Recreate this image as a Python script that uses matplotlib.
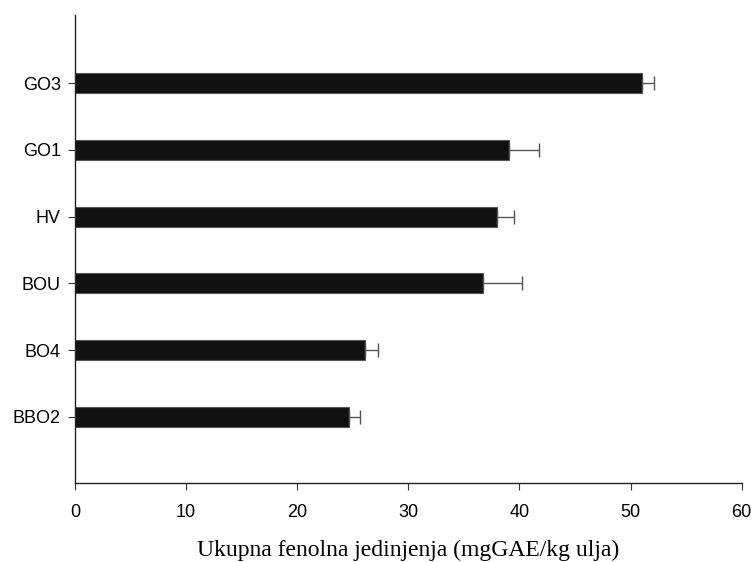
import numpy as np
import matplotlib.pyplot as plt

# data
samples = ['BBO2', 'BO4', 'BOU', 'HV', 'GO1', 'GO3']
values = [24.7, 26.1, 36.7, 38.0, 39.1, 51.0]
errors = [1.0, 1.2, 3.5, 1.5, 2.7, 1.1]
xticks = [0, 10, 20, 30, 40, 50, 60]

fig = plt.figure(figsize=(7.56, 5.62), dpi=100)
ax = fig.add_axes([0.099, 0.1406, 0.882, 0.8324])

pos = np.arange(len(samples))
ax.barh(pos, values, height=0.3, color='#111111', edgecolor='#555555', linewidth=0.8)
ax.errorbar(values, pos, xerr=[np.zeros(len(errors)), errors], fmt='none',
            ecolor='#555555', elinewidth=1, capsize=5, capthick=1)

ax.set_xlim(0, 60)
ax.set_ylim(-0.99, 6.02)
ax.set_xticks(xticks)
ax.set_yticks(pos)
ax.set_yticklabels(samples, family='Liberation Sans', fontsize=13)
for lab in ax.get_xticklabels():
    lab.set_family('Liberation Sans')
    lab.set_fontsize(13)
ax.tick_params(axis='both', length=5, width=0.8, color='#333333')
ax.tick_params(axis='x', pad=10)
ax.tick_params(axis='y', pad=5)

for s in ['top', 'right']:
    ax.spines[s].set_visible(False)
for s in ['left', 'bottom']:
    ax.spines[s].set_linewidth(1)
    ax.spines[s].set_color('#222222')

ax.set_xlabel('Ukupna fenolna jedinjenja (mgGAE/kg ulja)', family='Liberation Serif',
              fontsize=17, labelpad=14)

fig.savefig('out.png', dpi=100)
